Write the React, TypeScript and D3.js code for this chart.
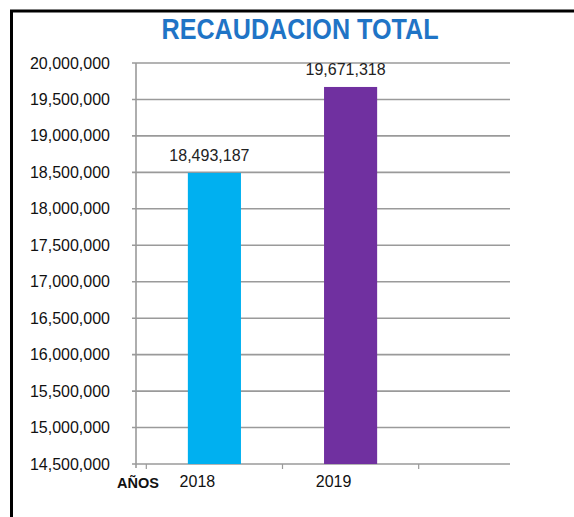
import React from "react";
import * as d3 from "d3";

const categories: string[] = ["2018", "2019"];
const values: number[] = [18493187, 19671318];
const barColors: string[] = ["#00B0F0", "#7030A0"];
const yTicks: number[] = [14500000, 15000000, 15500000, 16000000, 16500000, 17000000, 17500000, 18000000, 18500000, 19000000, 19500000, 20000000];
const title = "RECAUDACION TOTAL";
const xAxisTitle = "AÑOS";

const W = 574;
const H = 517;
const plotLeft = 136;
const plotRight = 510;
const plotTop = 63;
const plotBottom = 464;

export default function App() {
  const y = d3.scaleLinear().domain([14500000, 20000000]).range([plotBottom, plotTop]);
  const x = d3
    .scaleBand<string>()
    .domain(categories)
    .range([147, 418])
    .paddingInner(0.61)
    .paddingOuter(0.3);
  const fmt = d3.format(",");
  const numFont = "'Liberation Sans', Arial, sans-serif";
  const step = x.step();
  const catTicks = [0, 1, 2].map((i) => (x(categories[0]) as number) + x.bandwidth() / 2 - step / 2 + i * step);

  return (
    <svg
      width={W}
      height={H}
      style={{ position: "absolute", left: 0, top: 0, background: "#fff" }}
    >
      <rect x={0} y={0} width={W} height={H} fill="#fff" />
      <rect x={11.5} y={11} width={W + 20} height={H + 20} fill="none" stroke="#000" strokeWidth={3} />
      <text
        x={300}
        y={39}
        textAnchor="middle"
        fontFamily={numFont}
        fontWeight="bold"
        fontSize={29}
        fill="#1F74C6"
        textLength={277}
        lengthAdjust="spacingAndGlyphs"
      >
        {title}
      </text>

      {yTicks.map((t) => (
        <g key={t}>
          <line x1={plotLeft - 4} x2={plotRight} y1={y(t)} y2={y(t)} stroke="#9a9a9a" strokeWidth={1.6} />
          <text
            x={110}
            y={y(t) + 5.5}
            textAnchor="end"
            fontFamily={numFont}
            fontSize={16}
            fill="#111"
          >
            {fmt(t)}
          </text>
        </g>
      ))}
      <line x1={plotLeft} x2={plotLeft} y1={plotTop} y2={plotBottom + 4} stroke="#9a9a9a" strokeWidth={1.6} />
      {catTicks.map((cx, i) => (
        <line key={i} x1={cx} x2={cx} y1={plotBottom} y2={plotBottom + 5} stroke="#9a9a9a" strokeWidth={1.2} />
      ))}

      {categories.map((c, i) => (
        <g key={c}>
          <rect
            x={x(c)}
            y={y(values[i])}
            width={x.bandwidth()}
            height={plotBottom - y(values[i])}
            fill={barColors[i]}
          />
          <text
            x={(x(c) as number) + x.bandwidth() / 2 - 5}
            y={y(values[i]) - 12}
            textAnchor="middle"
            fontFamily={numFont}
            fontSize={16}
            fill="#222"
          >
            {fmt(values[i])}
          </text>
          <text
            x={(x(c) as number) + x.bandwidth() / 2 - 17}
            y={487}
            textAnchor="middle"
            fontFamily={numFont}
            fontSize={16}
            fill="#111"
          >
            {c}
          </text>
        </g>
      ))}
      <text x={117} y={488} fontFamily={numFont} fontWeight="bold" fontSize={14.5} fill="#111">
        {xAxisTitle}
      </text>
    </svg>
  );
}
